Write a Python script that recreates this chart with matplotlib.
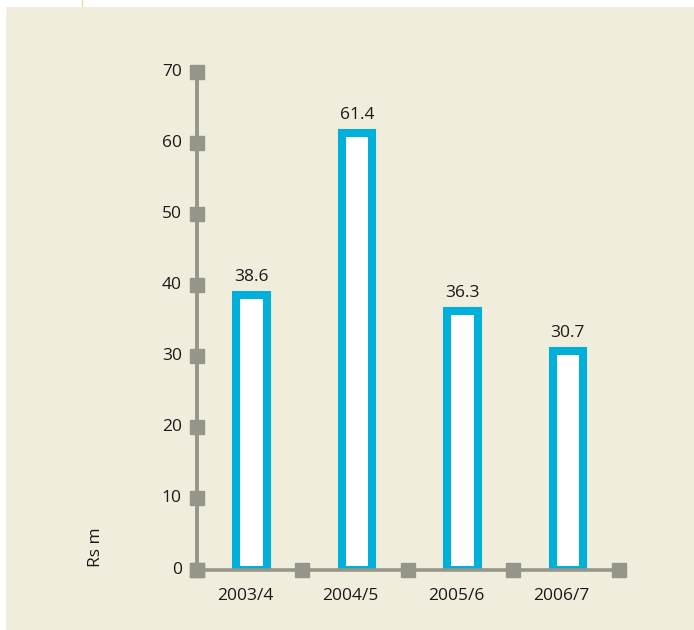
import matplotlib.pyplot as plt
from matplotlib.patches import Rectangle
from matplotlib.lines import Line2D

plt.rcParams['font.family'] = ['Open Sans', 'DejaVu Sans']

years = ['2003/4', '2004/5', '2005/6', '2006/7']
values = [38.6, 61.4, 36.3, 30.7]
y_ticks = [0, 10, 20, 30, 40, 50, 60, 70]

W, H = 694, 630
fig = plt.figure(figsize=(W / 100, H / 100), dpi=100)
fig.patch.set_facecolor('white')

# beige panel behind the chart
fig.patches.append(Rectangle((6 / W, 0), 1, (H - 7) / H, transform=fig.transFigure,
                             facecolor='#f1eddc', edgecolor='none', zorder=-10))
fig.lines.append(Line2D([82 / W, 82 / W], [(H - 7) / H, 1], transform=fig.transFigure,
                        color='#f3d9a6', lw=1, zorder=-10))

ax = fig.add_axes([196.5 / W, 60.5 / H, (618.5 - 196.5) / W, 498 / H])
ax.set_facecolor('none')
ax.set_xlim(0, 4)
ax.set_ylim(0, 70)

grey = '#96958a'
txt = '#1a1a1a'
fs = 12.5

bar_x = [i + 0.52 for i in range(len(years))]
ax.bar(bar_x, values, width=0.29, color='white', edgecolor='#00b0db', linewidth=5.8, zorder=2)
for x, v in zip(bar_x, values):
    ax.text(x, v + 2.5, f'{v:.1f}', ha='center', va='center', fontsize=fs, color=txt)

# axis lines with square tick markers
ax.plot([0, 0], [0, 70], color=grey, lw=2.8, zorder=3, clip_on=False)
ax.plot([0, 4], [0, 0], color=grey, lw=2.6, zorder=3, clip_on=False)
ax.plot([0] * len(y_ticks), y_ticks, 's', color=grey, ms=9.4, zorder=4, clip_on=False)
ax.plot(range(5), [0] * 5, 's', color=grey, ms=9.4, zorder=4, clip_on=False)

for t in y_ticks:
    ax.text(-0.14, t, str(t), ha='right', va='center', fontsize=fs, color=txt)
for i, yr in enumerate(years):
    ax.text(i + 0.46, -3.7, yr, ha='center', va='center', fontsize=fs, color=txt)

ax.text(-0.95, 3.2, 'Rs m', rotation=90, ha='center', va='center', fontsize=fs, color=txt)

for s in ax.spines.values():
    s.set_visible(False)
ax.set_xticks([])
ax.set_yticks([])

fig.savefig('out.png', dpi=100, facecolor=fig.get_facecolor())
